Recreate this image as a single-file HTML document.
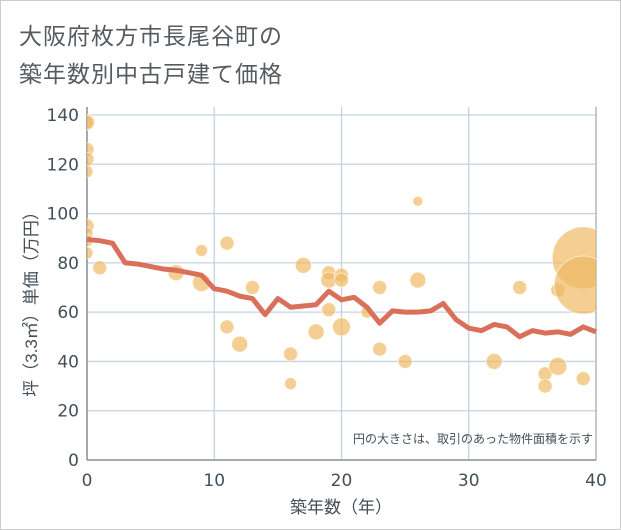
<!DOCTYPE html>
<html><head><meta charset="utf-8"><style>
body{margin:0;background:#fff;}
#wrap{position:relative;width:619px;height:528px;border:1px solid #ccc;background:#fff;font-family:"Liberation Sans","Noto Sans CJK JP",sans-serif;}
.title{position:absolute;left:18px;color:#555b60;font-size:23px;letter-spacing:1px;}
</style></head><body>
<div id="wrap">
<div class="title" style="top:16px">大阪府枚方市長尾谷町の</div>
<div class="title" style="top:54px">築年数別中古戸建て価格</div>
<svg id="chart" width="621" height="530" style="position:absolute;left:-1px;top:-1px">
<defs><clipPath id="plotclip"><rect x="87" y="100" width="509" height="360"/></clipPath></defs>
</svg>
</div>
<script>
const lineYears=[0,1,2,3,4,5,6,7,8,9,10,11,12,13,14,15,16,17,18,19,20,21,22,23,24,25,26,27,28,29,30,31,32,33,34,35,36,37,38,39,40];
const lineValues=[89.5,89,88,80,79.5,78.5,77.5,77,76,75,69.5,68.5,66.5,65.5,59,65.5,62,62.5,63,68.5,65,66,62,55.5,60.5,60,60,60.5,63.5,57,53.5,52.5,55,54,50,52.5,51.5,52,51,54,52];
const bubbleX=[0,0,0,0,0,0,0,0,0,1,7,9,9,11,11,12,13,16,16,17,18,19,19,19,20,20,20,22,23,23,25,26,26,32,34,36,36,37,37,39,39,39];
const bubbleY=[137,137,126,122,117,95,92,89,84,78,76,72,85,88,54,47,70,43,31,79,52,76,73,61,75,73,54,60,70,45,40,105,73,40,70,35,30,38,69,82,71,33];
const bubbleR=[8,7,7,7,6,7,6,6,6,7,8,9,6,7,7,8,7,7,6,8,8,7,8,7,7,7,9,6,7,7,7,5,8,8,7,7,7,9,7,31,29,7];
const xTicks=[0,10,20,30,40];
const yTicks=[0,20,40,60,80,100,120,140];
const NS="http://www.w3.org/2000/svg";
const svg=document.getElementById('chart');
const X0=87,X1=596,Y0=460,Y1=115;
const sx=v=>X0+(X1-X0)*v/40;
const sy=v=>Y0-(Y0-Y1)*v/140;
const TF='"DejaVu Sans","Liberation Sans",sans-serif';
function mk(t,a){const e=document.createElementNS(NS,t);for(const k in a)e.setAttribute(k,a[k]);svg.appendChild(e);return e;}
yTicks.forEach(t=>{
 const g=mk('line',{x1:X0,x2:X1,y1:sy(t),y2:sy(t),stroke:'#c5d3e0','stroke-width':1.3});
 
 
 const l=mk('text',{x:X0-8,y:sy(t)+6,'text-anchor':'end','font-size':17,fill:'#444f58','font-family':TF});
 l.textContent=t;
 
 
});
xTicks.forEach(t=>{
 const g=mk('line',{x1:sx(t),x2:sx(t),y1:Y1-8,y2:Y0,stroke:'#c5d3e0','stroke-width':1.3});
 
 
 const l=mk('text',{x:sx(t),y:Y0+26,'text-anchor':'middle','font-size':17,fill:'#444f58','font-family':TF});
 l.textContent=t;
 
 
});
const ax=mk('line',{x1:X0,x2:X0,y1:Y1-8,y2:Y0,stroke:'#8a9299','stroke-width':1.5});


const bx=mk('line',{x1:X0,x2:X1,y1:Y0,y2:Y0,stroke:'#8a9299','stroke-width':1.5});


const rb=mk('line',{x1:X1,x2:X1,y1:Y1-8,y2:Y0,stroke:'#aab4bd','stroke-width':1.3});


bubbleX.forEach((x,i)=>{
 const c=mk('circle',{cx:sx(x),cy:sy(bubbleY[i]),r:bubbleR[i],fill:'rgba(240,185,100,0.7)',stroke:'rgba(255,255,255,0.6)','stroke-width':1,'clip-path':'url(#plotclip)'});
 
 
});
const p=mk('polyline',{points:lineYears.map((y,i)=>sx(y)+','+sy(lineValues[i])).join(' '),fill:'none',stroke:'#d9705a','stroke-width':5,'stroke-linejoin':'round'});


const n=mk('text',{x:593,y:443,'text-anchor':'end','font-size':12,fill:'#444f58'});
n.textContent='円の大きさは、取引のあった物件面積を示す';


const xt=mk('text',{x:341,y:513,'text-anchor':'middle','font-size':17,fill:'#444f58'});
xt.textContent='築年数（年）';


const yt=mk('text',{x:0,y:0,'text-anchor':'middle','font-size':17,fill:'#444f58',transform:'translate(37,300) rotate(-90)'});
yt.textContent='坪（3.3㎡）単価（万円）';


</script>
</body></html>
